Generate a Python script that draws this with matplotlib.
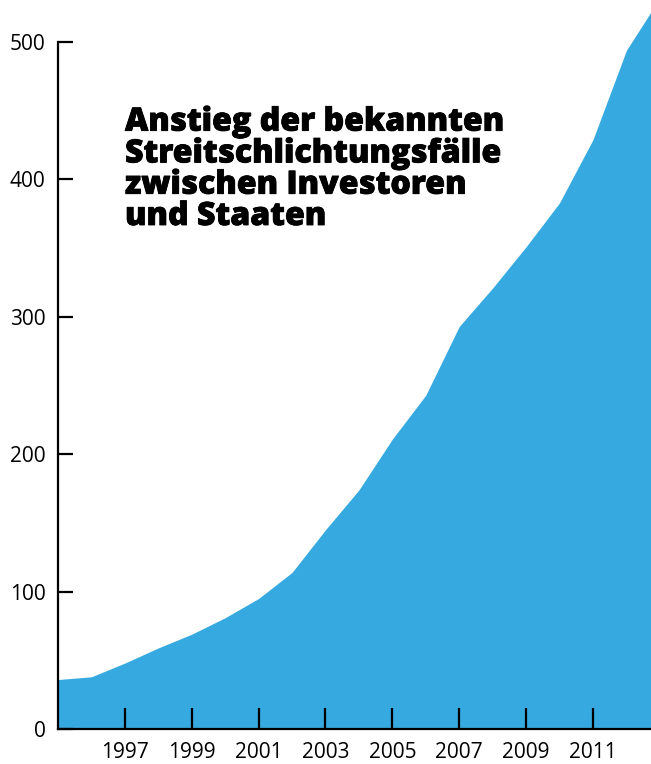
import matplotlib
matplotlib.use("Agg")
import matplotlib.pyplot as plt
import matplotlib.patheffects as pe

# Bekannte Investor-Staat-Streitfälle (kumuliert)
years = [1995, 1996, 1997, 1998, 1999, 2000, 2001, 2002, 2003, 2004,
         2005, 2006, 2007, 2008, 2009, 2010, 2011, 2012, 2013]
cases = [36, 38, 48, 59, 69, 81, 95, 114, 145, 174,
         211, 243, 293, 321, 351, 383, 429, 494, 532]

x_ticks = [1997, 1999, 2001, 2003, 2005, 2007, 2009, 2011]
y_ticks = [0, 100, 200, 300, 400, 500]
title = "Anstieg der bekannten\nStreitschlichtungsfälle\nzwischen Investoren\nund Staaten"

BLUE = "#36a9e0"

fig = plt.figure(figsize=(6.51, 7.64), dpi=100)
ax = fig.add_axes([58 / 651, 35 / 764, 1 - 58 / 651, 1 - 35 / 764])

ax.fill_between(years, cases, 0, color=BLUE, linewidth=0, zorder=1)
ax.set_xlim(1995, 2012.735)
ax.set_ylim(0, 530.6)

for side in ["top", "right"]:
    ax.spines[side].set_visible(False)
ax.spines["left"].set_bounds(0, 500)
ax.spines["left"].set_linewidth(1.6)
ax.spines["bottom"].set_linewidth(1.6)
ax.spines["left"].set_zorder(3)
ax.spines["bottom"].set_zorder(3)

ax.set_xticks(x_ticks)
ax.set_xticklabels([str(y) for y in x_ticks], fontsize=15, family="Open Sans")
ax.set_yticks(y_ticks)
ax.set_yticklabels([str(v) for v in y_ticks], fontsize=15, family="Open Sans")
ax.tick_params(axis="x", direction="in", length=15, width=1.6, pad=9,
               color="black")
ax.tick_params(axis="y", direction="in", length=11, width=1.6, pad=9,
               color="black")
ax.set_axisbelow(False)

# Titel: fette Grotesk; va=baseline richtet an der letzten Zeile aus
fig.text(125 / 651, 1 - 225 / 764, title, ha="left", va="baseline",
         fontsize=23.1, fontweight="heavy", family="Open Sans",
         linespacing=0.97, color="black",
         path_effects=[pe.withStroke(linewidth=0.6, foreground="black")])

fig.savefig("out.png", dpi=100)
